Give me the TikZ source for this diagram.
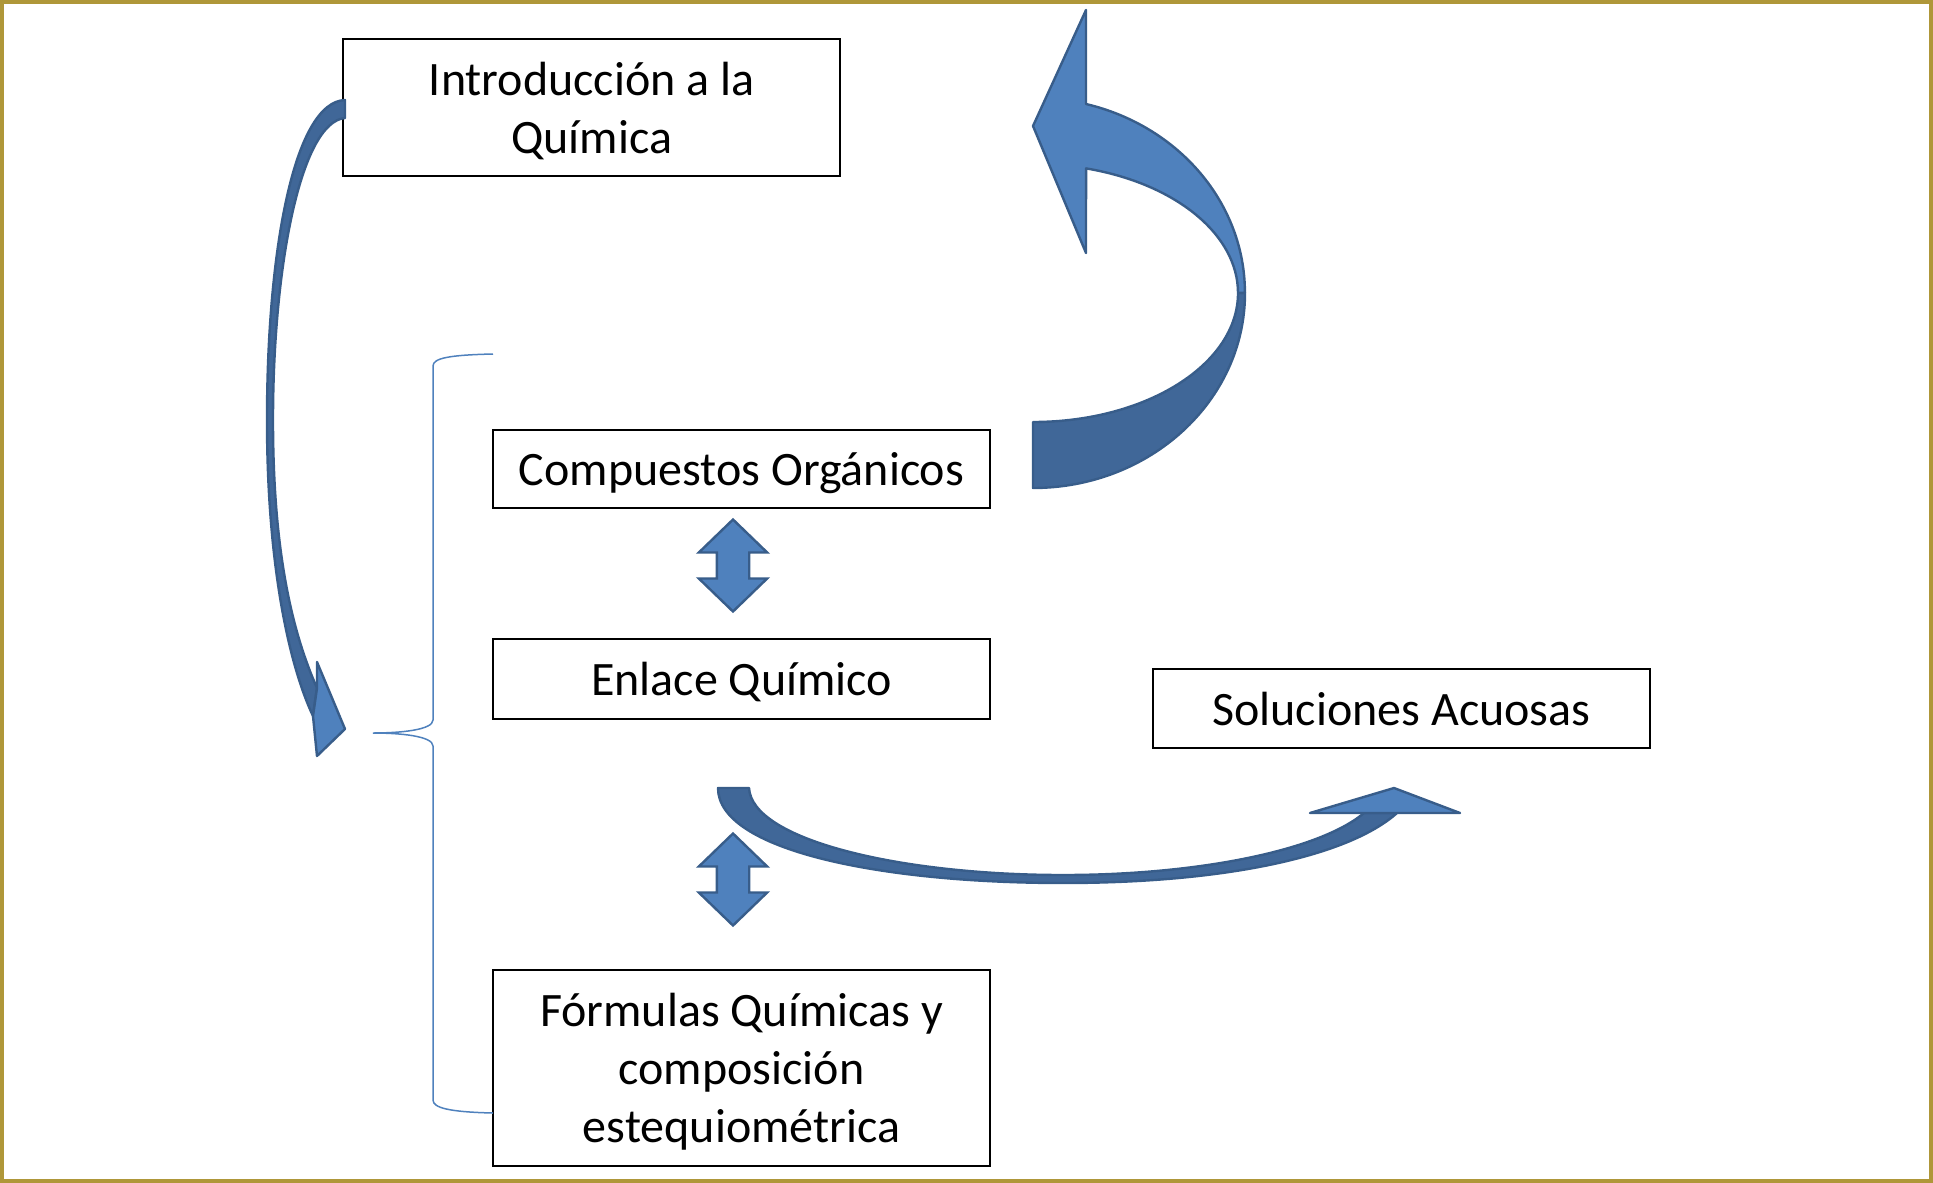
\documentclass[tikz,border=0pt]{standalone}
\usepackage{fontspec}
\setmainfont{Carlito}
\usetikzlibrary{shapes.arrows}
\definecolor{goldframe}{RGB}{175,151,57}
\definecolor{arrowfront}{RGB}{79,129,189}
\definecolor{arrowback}{RGB}{64,103,152}
\definecolor{arrowedge}{RGB}{56,93,138}
\begin{document}
\begin{tikzpicture}[x=0.5pt,y=-0.5pt]
	\tikzstyle{box}=[draw,line width=1pt,minimum width=248.5pt,inner sep=0pt,text depth=0pt,align=center,font=\fontsize{24}{29}\selectfont]
	\tikzstyle{updown}=[double arrow,rotate=90,draw=arrowedge,fill=arrowfront,line width=1.2pt,minimum height=46pt,inner xsep=0pt,inner ysep=7.5pt,double arrow head extend=9pt,double arrow tip angle=92]
	\tikzstyle{back}=[draw=arrowedge,fill=arrowback,line width=1.2pt,line join=round]
	\tikzstyle{front}=[draw=arrowedge,fill=arrowfront,line width=1.2pt,line join=round]
	\useasboundingbox (0,0) rectangle (1933,1183);
	\draw[goldframe,line width=2pt] (2,2) rectangle (1931,1181);
	\node[box,minimum height=68.5pt] (intro) at (591.7,107.9) {Introducción a la\\Química};
	\node[box,minimum height=39pt] (compuestos) at (741.5,469) {Compuestos Orgánicos};
	\node[box,minimum height=40pt] (enlace) at (741.5,679) {Enlace Químico};
	\node[box,minimum height=98pt] (formulas) at (741.5,1068) {Fórmulas Químicas y\\composición\\estequiométrica};
	\node[box,minimum height=39.5pt] (soluciones) at (1401.5,708.5) {Soluciones Acuosas};
	\node[updown] (arriba) at (733,565.5) {};
	\node[updown] (abajo) at (733,879.5) {};
	\coordinate (bracetop) at (493,354);
	\coordinate (bracetip) at (373,733);
	\coordinate (bracebottom) at (493,1113);
	\draw[arrowfront,line width=0.75pt] (bracetop) .. controls (450,355) and (433,358) .. (433,366) -- (433,720) .. controls (433,730) and (400,733) .. (bracetip) .. controls (400,733) and (433,736) .. (433,746) -- (433,1100) .. controls (433,1108) and (450,1112) .. (bracebottom);
	\draw[back] (345,100) .. controls (294,102) and (267,250) .. (267,420) .. controls (267,565) and (289,665) .. (313,716) -- (317,688) .. controls (294,636) and (273,558) .. (273,420) .. controls (273,265) and (301,122) .. (345,118) -- cycle;
	\draw[front] (317,662) -- (345,729) -- (317,756) -- (313,716) -- (317,688) -- cycle;
	\draw[back] (1245,293) arc[start angle=0,end angle=-90,x radius=106pt,y radius=97.5pt] -- (1033,422) arc[start angle=-90,end angle=0,x radius=102.5pt,y radius=64.5pt] -- cycle;
	\draw[front] (1086,104) arc[start angle=75.5,end angle=0,x radius=106pt,y radius=97.5pt] -- (1238,293) arc[start angle=0,end angle=75,x radius=102.5pt,y radius=64.5pt] -- (1086,253) -- (1033,126) -- (1086,10) -- cycle;
	\draw[back] (718,788) .. controls (718,850) and (880,883) .. (1063,883) .. controls (1230,883) and (1350,855) .. (1397,813) -- (1364,813) .. controls (1320,850) and (1200,875) .. (1063,875) .. controls (900,875) and (752,840) .. (749,788) -- cycle;
	\draw[front] (1310,813) -- (1394,788) -- (1460,813) -- cycle;
\end{tikzpicture}
\end{document}
